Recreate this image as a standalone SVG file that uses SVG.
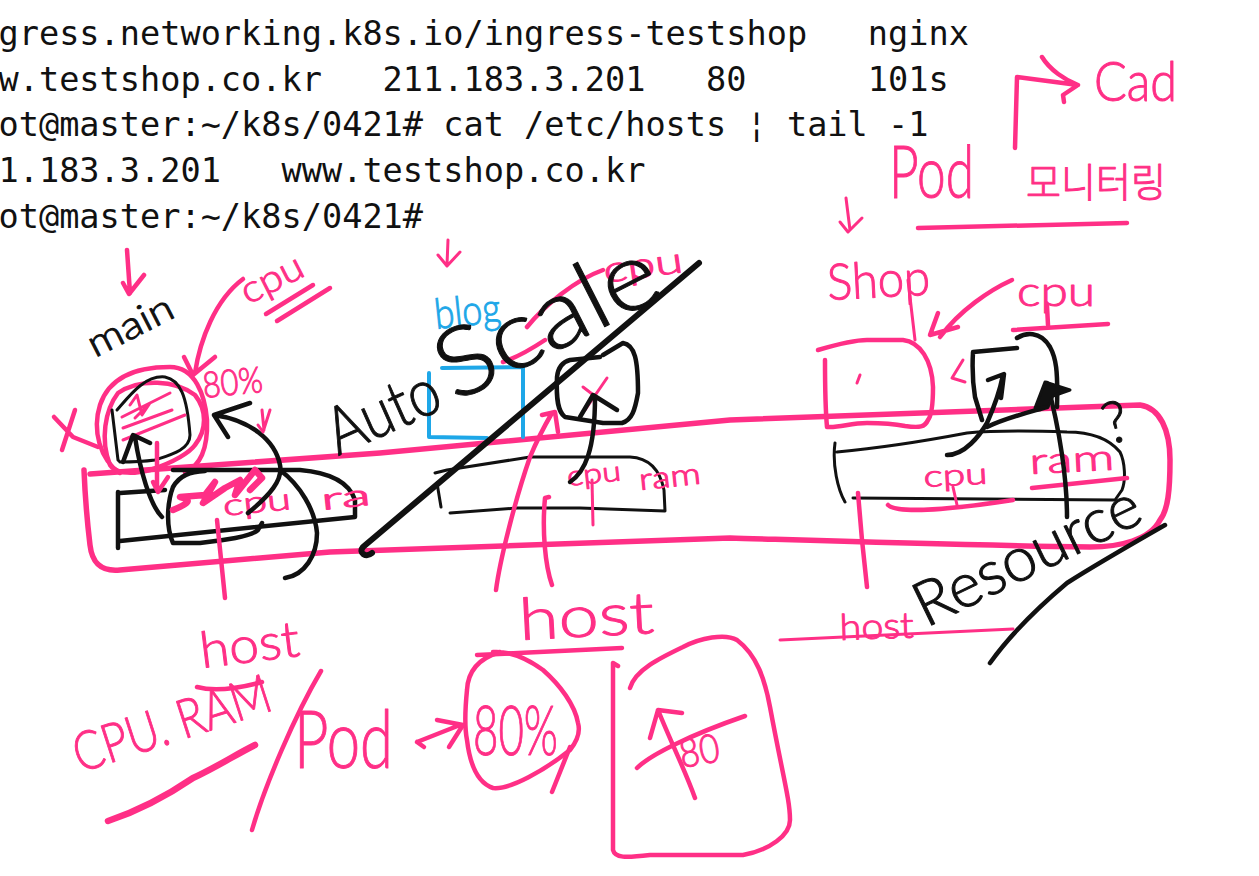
<svg xmlns="http://www.w3.org/2000/svg" width="1259" height="876" viewBox="0 0 1259 876">
<style>
.t{font-family:"DejaVu Sans Mono","Liberation Mono",monospace;font-size:33.6px;fill:#111;white-space:pre}
.h{font-family:"Lato","Noto Sans","Noto Sans CJK KR",sans-serif;font-weight:300;fill:#ff2f86;stroke:#ff2f86;stroke-width:1;stroke-linejoin:round}
.hk{font-family:"Lato","Noto Sans",sans-serif;font-weight:300;fill:#111;stroke:#111;stroke-width:1;stroke-linejoin:round}
.hb{font-family:"Lato","Noto Sans",sans-serif;font-weight:300;fill:#1ea7e8;stroke:#1ea7e8;stroke-width:1}
path{fill:none;stroke-linecap:round;stroke-linejoin:round}
.p{stroke:#ff2f86;stroke-width:4.5}
.pt{stroke:#ff2f86;stroke-width:3}
.pb{stroke:#ff2f86;stroke-width:6.5}
.k{stroke:#111;stroke-width:3}
.kb{stroke:#111;stroke-width:4.5}
.c{stroke:#1ea7e8;stroke-width:4}
</style>
<rect width="1259" height="876" fill="#fff"/>
<g id="terminal">
<text class="t" x="-1.5" y="45">gress.networking.k8s.io/ingress-testshop   nginx</text>
<text class="t" x="-1.5" y="91">w.testshop.co.kr   211.183.3.201   80      101s</text>
<text class="t" x="-1.5" y="136">ot@master:~/k8s/0421# cat /etc/hosts ¦ tail -1</text>
<text class="t" x="-1.5" y="182">1.183.3.201   www.testshop.co.kr</text>
<text class="t" x="-1.5" y="228">ot@master:~/k8s/0421#</text>
</g>
<g id="cluster-bar">
<path class="pb" d="M90 474L380 453L730 420L1140 405C1160 408 1170 430 1170 460C1170 490 1168 510 1160 520C1150 540 1120 547 1090 547C950 545 800 540 730 538L330 552L120 570C100 572 92 562 90 545C87 520 85 495 84 470" style="stroke-width:5.5"/>
</g>
<g id="node-main">
<text class="hk" transform="translate(95 358) rotate(-27)" font-size="38" textLength="92" lengthAdjust="spacingAndGlyphs">main</text>
<path class="p" d="M120 473C100 460 92 430 100 405C110 375 140 367 170 367C195 367 205 395 207 420C208 450 200 465 185 473"/>
<path class="p" d="M110 465C100 440 105 410 118 393C140 378 175 380 195 395C207 410 207 430 195 445C190 452 175 462 150 470C130 475 115 473 110 465"/>
<path class="k" d="M112 410L118 460L120 462M117 410C130 395 145 375 165 377C180 380 187 395 190 435C190 450 170 455 155 460C140 462 130 462 120 462"/>
<path class="pt" d="M122 417L170 393M123 428L172 410M123 440L185 415M130 405L137 395L142 415L150 403L135 418"/>
<path class="kb" d="M118 492L118 548M120 493L165 490M120 541L355 517L355 500C350 485 335 473 300 470L173 470"/>
<path class="kb" d="M173 487C168 500 165 525 173 543L200 543C225 540 250 537 258 530L262 523M173 487C180 475 190 472 205 471"/>
<path class="pb" d="M173 510C185 505 195 500 180 497L205 495L215 482L203 503L225 488L240 480L235 495L255 470L262 478L250 490"/>
<path class="p" d="M217 520L225 598"/>
<text class="h" transform="translate(224 516) rotate(-6)" font-size="30" textLength="68" lengthAdjust="spacingAndGlyphs">cpu</text>
<text class="h" transform="translate(322 510) rotate(-6)" font-size="30" textLength="50" lengthAdjust="spacingAndGlyphs">ra</text>
<text class="h" transform="translate(204 398) rotate(-6)" font-size="36" textLength="60" lengthAdjust="spacingAndGlyphs">80%</text>
<text class="h" transform="translate(248 305) rotate(-27)" font-size="38" textLength="66" lengthAdjust="spacingAndGlyphs">cpu</text>
<path class="p" d="M266 314L313 285M277 321L330 288"/>
<path class="p" d="M75 410L62 450M54 417L73 437L98 447"/>
</g>
<g id="node-blog">
<text class="hb" transform="translate(436 329) rotate(-6)" font-size="42" textLength="66" lengthAdjust="spacingAndGlyphs">blog</text>
<path class="c" d="M429 373L429 437L487 438M442 368L523 367L523 437"/>
<path class="kb" d="M603 355L623 343C635 345 638 360 638 393C635 410 632 420 622 423L603 423L565 417C558 412 556 400 557 377C558 368 562 362 570 360L600 357"/>
<path class="pt" d="M607 378L585 410M583 387L600 400"/>
<path class="k" d="M437 483L441 507M435 473L447 470L530 457L630 457C650 458 660 470 664 490L665 511L580 508L517 508L450 513"/>
<text class="h" transform="translate(568 486) rotate(-6)" font-size="28" textLength="54" lengthAdjust="spacingAndGlyphs">cpu</text>
<path class="pt" d="M592 480L593 525"/>
<text class="h" transform="translate(640 490) rotate(-6)" font-size="30" textLength="62" lengthAdjust="spacingAndGlyphs">ram</text>
<text class="h" transform="translate(605 283) rotate(-8)" font-size="36" textLength="80" lengthAdjust="spacingAndGlyphs">cpu</text>
<path class="p" d="M603 270C575 280 545 305 527 327M503 362C515 358 530 350 545 340"/>
</g>
<g id="node-shop">
<text class="h" transform="translate(828 300) rotate(-3)" font-size="50" textLength="103" lengthAdjust="spacingAndGlyphs">Shop</text>
<path class="pt" d="M908 280L915 340"/>
<path class="p" d="M818 350C835 345 855 340 867 340L903 340C920 342 932 360 933 387C933 400 932 415 928 420C925 427 920 428 905 426C890 423 880 423 867 423C850 423 840 428 827 427C825 405 825 380 825 360"/>
<path class="pt" d="M860 375L857 383M963 360L952 378L965 382"/>
<text class="h" x="1017" y="306" font-size="42" textLength="78" lengthAdjust="spacingAndGlyphs">cpu</text>
<path class="p" d="M1013 330L1108 324M1047 306L1048 325"/>
<path class="kb" d="M1017 348L973 352C972 370 973 385 975 397L982 420M1017 338C1025 333 1040 330 1050 347C1056 358 1058 370 1057 407"/>
<path class="k" d="M835 443C832 465 838 490 845 502M837 452C880 448 930 440 967 433C1000 430 1040 431 1067 432C1095 432 1110 440 1120 452C1125 462 1126 480 1122 490L1115 500L853 498"/>
<text class="h" transform="translate(924 487) rotate(-3)" font-size="30" textLength="64" lengthAdjust="spacingAndGlyphs">cpu</text>
<text class="h" transform="translate(1030 474) rotate(-3)" font-size="36" textLength="85" lengthAdjust="spacingAndGlyphs">ram</text>
<path class="p" d="M1032 488L1127 478M888 505C895 512 935 512 1013 500"/>
<path class="pt" d="M953 487L957 505"/>
<path class="p" d="M858 493L862 540L867 587"/>
<text class="hk" transform="translate(1109 445) rotate(-16)" font-size="58">?</text>
</g>
<g id="titles">
<text class="h" x="1094" y="101" font-size="56" textLength="83" lengthAdjust="spacingAndGlyphs">Cad</text>
<text class="h" x="889" y="198" font-size="72" textLength="85" lengthAdjust="spacingAndGlyphs">Pod</text>
<text class="h" x="1026" y="197" font-size="40" textLength="140" lengthAdjust="spacingAndGlyphs" style="font-family:'Noto Sans CJK KR',sans-serif">모니터링</text>
<path class="p" d="M918 228L1127 223"/>
<text class="hk" transform="translate(338 456) rotate(-24)" font-size="66" textLength="118" lengthAdjust="spacingAndGlyphs">Auto</text>
<text class="hk" transform="translate(455 403) rotate(-27)" font-size="96" textLength="238" lengthAdjust="spacingAndGlyphs">Scale</text>
<path class="kb" d="M699 263L363 547C358 553 366 558 372 553" style="stroke-width:6"/>
<text class="hk" transform="translate(926 628) rotate(-26)" font-size="62" textLength="245" lengthAdjust="spacingAndGlyphs">Resource</text>
<path class="kb" d="M1165 525C1130 545 1095 565 1067 583C1035 610 1010 635 990 663"/>
</g>
<g id="host-labels">
<text class="h" transform="translate(202 668) rotate(-7)" font-size="50" textLength="100" lengthAdjust="spacingAndGlyphs">host</text>
<path class="p" d="M197 687C215 692 240 688 262 682"/>
<text class="h" transform="translate(520 640) rotate(-3)" font-size="58" textLength="135" lengthAdjust="spacingAndGlyphs">host</text>
<path class="p" d="M477 655L622 648"/>
<text class="h" transform="translate(840 640) rotate(-2)" font-size="36" textLength="74" lengthAdjust="spacingAndGlyphs">host</text>
<path class="pt" d="M780 640L1013 629"/>
</g>
<g id="bottom-notes">
<text class="h" transform="translate(80 773) rotate(-18)" font-size="54" textLength="205" lengthAdjust="spacingAndGlyphs">CPU. RAM</text>
<path class="pb" d="M108 821C135 812 165 797 193 778C215 768 235 755 255 745"/>
<path class="p" d="M252 830C265 785 295 715 321 671"/>
<text class="h" x="294" y="768" font-size="80" textLength="99" lengthAdjust="spacingAndGlyphs">Pod</text>
<path class="p" d="M500 652C480 658 468 670 467 690C465 710 465 730 467 740C470 765 478 783 493 788C510 790 545 770 570 750C578 740 580 730 578 723C575 705 560 685 543 670C525 657 510 651 493 652"/>
<path class="p" d="M570 747L552 792"/>
<text class="h" x="473" y="755" font-size="68" textLength="85" lengthAdjust="spacingAndGlyphs">80%</text>
<path class="p" d="M618 666L613 663L613 850C615 858 625 858 650 855L743 855C770 850 790 835 790 820C790 800 783 777 770 707C765 680 757 655 737 640C725 633 700 638 683 647C660 658 635 670 630 688"/>
<text class="h" transform="translate(682 768) rotate(-10)" font-size="40" textLength="40" lengthAdjust="spacingAndGlyphs">80</text>
<path class="p" d="M637 768C650 755 690 735 745 716"/>
</g>
<g id="connectors">
<path class="p" d="M127 250L130 293M123 283L129 294L144 275"/>
<path class="p" d="M243 279C215 300 200 340 195 373M184 357L193 375L215 357"/>
<path class="kb" d="M162 517C150 505 140 470 135 437M123 462L133 435L150 443"/>
<path class="p" d="M157 443L157 490M153 482L158 492L168 477"/>
<path class="kb" d="M248 513C270 495 283 480 280 465C275 440 250 420 214 415M250 403L214 415L228 437"/>
<path class="pt" d="M262 410L264 430M258 425L263 432L270 410"/>
<path class="kb" d="M280 470C300 485 315 510 317 533C317 555 305 575 285 578"/>
<path class="pt" d="M448 240L447 265M438 255L447 266L460 252"/>
<path class="kb" d="M570 482C585 472 595 450 595 397M580 417L593 395L617 410"/>
<path class="p" d="M496 590C500 560 515 500 530 457C537 440 545 425 552 413M542 415L555 412L558 432"/>
<path class="p" d="M552 585C545 565 542 530 545 498L549 497"/>
<path class="p" d="M1015 148L1017 77L1078 85M1042 57C1050 70 1065 80 1078 85L1063 95L1064 102"/>
<path class="pt" d="M846 198L850 230M840 222L848 232L862 218"/>
<path class="p" d="M1012 280C990 290 960 310 940 337M938 313L930 335L958 327"/>
<path class="kb" d="M947 455C965 455 980 435 987 423C995 405 1000 390 1003 375M988 380L1004 374L1001 398"/>
<path class="kb" d="M1067 517C1067 480 1060 430 1047 383M987 427C1005 418 1030 412 1047 407"/>
<path d="M1035 408L1045 382L1070 390L1053 396L1048 407Z" style="fill:#111;stroke:#111;stroke-width:3"/>
<path class="p" d="M417 742L460 725M437 720L463 725L449 747M417 742L424 747"/>
<path class="p" d="M695 798C685 770 670 740 658 710M650 738L658 710L682 713"/>
</g>
</svg>
